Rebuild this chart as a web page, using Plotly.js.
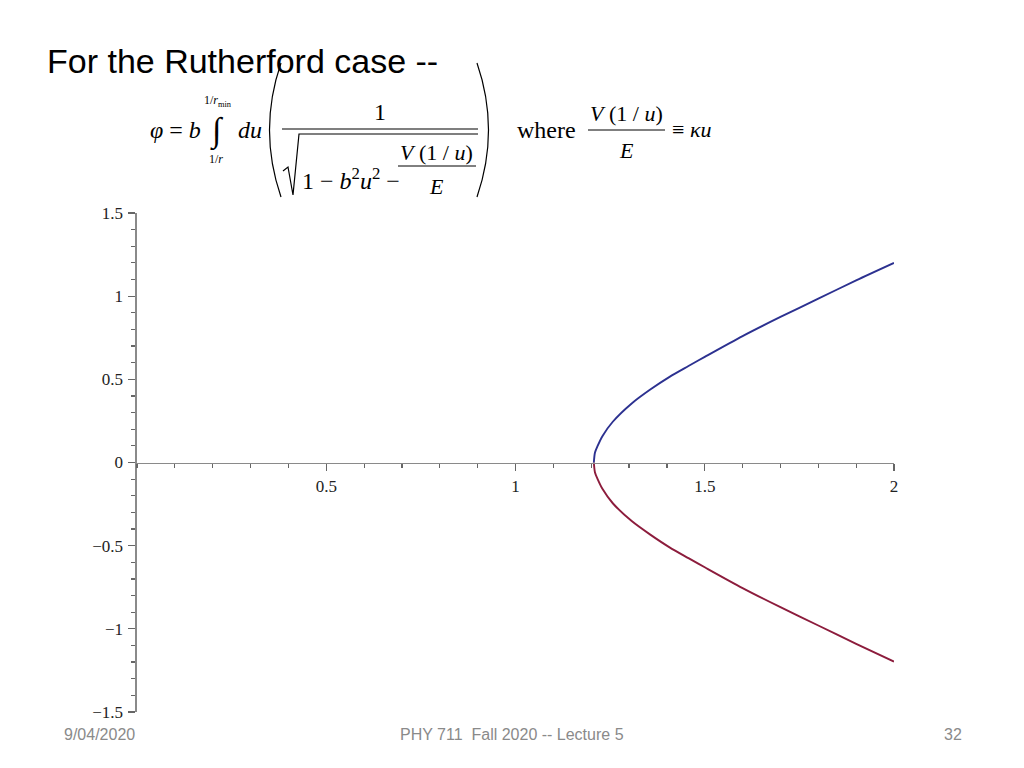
<!DOCTYPE html>
<html><head><meta charset="utf-8">
<script src="https://cdn.plot.ly/plotly-3.0.1.min.js"></script>
<style>html,body{margin:0;padding:0;background:#fff}#chart{width:1024px;height:768px}</style>
</head><body><div id="chart"></div>
<script>
// Data
const upperX = [1.207, 1.210, 1.217, 1.230, 1.257, 1.307, 1.357, 1.407, 1.457, 1.5, 1.6, 1.7, 1.8, 1.9, 2.0];
const upperY = [0, 0.06, 0.10, 0.16, 0.245, 0.355, 0.44, 0.515, 0.58, 0.635, 0.76, 0.875, 0.985, 1.095, 1.2];
const lowerX = [1.207, 1.210, 1.217, 1.230, 1.257, 1.307, 1.357, 1.407, 1.457, 1.5, 1.6, 1.7, 1.8, 1.9, 2.0];
const lowerY = [0, -0.06, -0.10, -0.16, -0.245, -0.352, -0.435, -0.51, -0.575, -0.63, -0.755, -0.87, -0.98, -1.09, -1.197];
const xTickVals = [0.5, 1, 1.5, 2];
const xTickText = ['0.5', '1', '1.5', '2'];
const yTickVals = [-1.5, -1, -0.5, 0, 0.5, 1, 1.5];
const yTickText = ['\u22121.5', '\u22121', '\u22120.5', '0', '0.5', '1', '1.5'];
const slideTitle = 'For the Rutherford case --';
const footerDate = '9/04/2020';
const footerCourse = 'PHY 711  Fall 2020 -- Lecture 5';
const footerPage = '32';

// pixel -> paper helpers for slide decorations
const L = 137, W = 757, B = 712, H = 499;
const X = px => (px - L) / W;
const Y = py => (B - py) / H;
const SERIF = 'Liberation Serif, Times New Roman, serif';
const SANS = 'Liberation Sans, Arial, sans-serif';

function ann(text, px, py, size, opt) {
  opt = opt || {};
  return Object.assign({
    text: text, xref: 'paper', yref: 'paper', x: X(px), y: Y(py),
    xanchor: 'center', yanchor: 'middle', showarrow: false,
    font: {family: SERIF, size: size, color: '#000'}
  }, opt);
}
function pathStr(pts) {
  return pts.map((p, i) => (i ? 'L' : 'M') + X(p[0]).toFixed(5) + ',' + Y(p[1]).toFixed(5)).join(' ');
}
function qpath(p0, c, p1) {
  return 'M' + X(p0[0]).toFixed(5) + ',' + Y(p0[1]).toFixed(5) +
    ' Q' + X(c[0]).toFixed(5) + ',' + Y(c[1]).toFixed(5) + ' ' +
    X(p1[0]).toFixed(5) + ',' + Y(p1[1]).toFixed(5);
}
const lineStyle = {color: '#000', width: 1.2};
const footFont = {family: 'Liberation Sans Narrow, ' + SANS, size: 16, color: '#8a8a8a'};

const annotations = [
  ann(slideTitle, 45, 61, 34, {xanchor: 'left', font: {family: SANS, size: 34, color: '#000'}}),
  ann('<i>\u03c6</i> = <i>b</i>', 148, 130, 24, {xanchor: 'left'}),
  ann('\u222b', 217, 131, 34),
  ann('1/<i>r</i><sub>min</sub>', 218, 101, 12, {font: {family: SERIF, size: 12, color: '#000'}}),
  ann('1/<i>r</i>', 216, 159, 12, {font: {family: SERIF, size: 12, color: '#000'}}),
  ann('<i>du</i>', 250, 130, 24),
  ann('1', 380, 112, 24),
  ann('1 \u2212 <i>b</i><sup>2</sup><i>u</i><sup>2</sup> \u2212', 300, 179, 24, {xanchor: 'left'}),
  ann('<i>V</i> (1 / <i>u</i>)', 436, 152, 22),
  ann('<i>E</i>', 436, 187, 22),
  ann('where', 515, 130, 24, {xanchor: 'left'}),
  ann('<i>V</i> (1 / <i>u</i>)', 626, 113, 22),
  ann('<i>E</i>', 626, 150, 22),
  ann('\u2261 <i>\u03bau</i>', 670, 130, 22, {xanchor: 'left'}),
  ann(footerDate, 99, 734, 16, {font: footFont}),
  ann(footerCourse, 512, 734, 16, {font: footFont}),
  ann(footerPage, 953, 734, 16, {font: footFont})
];

const shapes = [
  // big parentheses
  {type: 'path', xref: 'paper', yref: 'paper', path: qpath([281, 63], [258, 130], [281, 197]), line: lineStyle},
  {type: 'path', xref: 'paper', yref: 'paper', path: qpath([477, 63], [500, 130], [477, 197]), line: lineStyle},
  // main fraction bar
  {type: 'line', xref: 'paper', yref: 'paper', x0: X(282), x1: X(478), y0: Y(129), y1: Y(129), line: lineStyle},
  // radical sign
  {type: 'path', xref: 'paper', yref: 'paper', path: pathStr([[283, 171], [288, 167], [293, 195], [299, 134], [478, 134]]), line: lineStyle},
  // small fraction bar inside radical
  {type: 'line', xref: 'paper', yref: 'paper', x0: X(398), x1: X(476), y0: Y(166), y1: Y(166), line: {color: '#000', width: 1}},
  // fraction bar in "where" clause
  {type: 'line', xref: 'paper', yref: 'paper', x0: X(588), x1: X(665), y0: Y(130), y1: Y(130), line: {color: '#000', width: 1}}
];

const traces = [
  {x: lowerX, y: lowerY, type: 'scatter', mode: 'lines', line: {color: '#8c1c3c', width: 1.9, shape: 'spline', smoothing: 0.8}, hoverinfo: 'skip'},
  {x: upperX, y: upperY, type: 'scatter', mode: 'lines', line: {color: '#2c3190', width: 1.9, shape: 'spline', smoothing: 0.8}, hoverinfo: 'skip'}
];

const tickFont = {family: SERIF, size: 17, color: '#222'};
const layout = {
  width: 1024, height: 768,
  margin: {l: L, r: 1024 - L - W, t: B - H, b: 768 - B, pad: 0},
  paper_bgcolor: '#fff', plot_bgcolor: '#fff',
  showlegend: false,
  xaxis: {
    range: [0, 2], anchor: 'free', position: 0.5,
    showline: true, linecolor: '#8a8a8a', linewidth: 1.6,
    showgrid: false, zeroline: false,
    tickmode: 'array', tickvals: xTickVals, ticktext: xTickText,
    ticks: 'outside', ticklen: 7, tickwidth: 1.2, tickcolor: '#666',
    ticklabelstandoff: 0,
    minor: {tickmode: 'linear', tick0: 0, dtick: 0.1, ticks: 'outside', ticklen: 4, tickwidth: 1.2, tickcolor: '#666', showgrid: false},
    tickfont: tickFont, fixedrange: true
  },
  yaxis: {
    range: [-1.5, 1.5],
    showline: true, linecolor: '#8a8a8a', linewidth: 1.6,
    showgrid: false, zeroline: false,
    tickmode: 'array', tickvals: yTickVals, ticktext: yTickText,
    ticks: 'outside', ticklen: 7, tickwidth: 1.2, tickcolor: '#666',
    ticklabelstandoff: 2,
    minor: {tickmode: 'linear', tick0: 0, dtick: 0.1, ticks: 'outside', ticklen: 4, tickwidth: 1.2, tickcolor: '#666', showgrid: false},
    tickfont: tickFont, fixedrange: true
  },
  annotations: annotations,
  shapes: shapes
};

Plotly.newPlot('chart', traces, layout, {displayModeBar: false, staticPlot: true});
</script>
</body></html>
